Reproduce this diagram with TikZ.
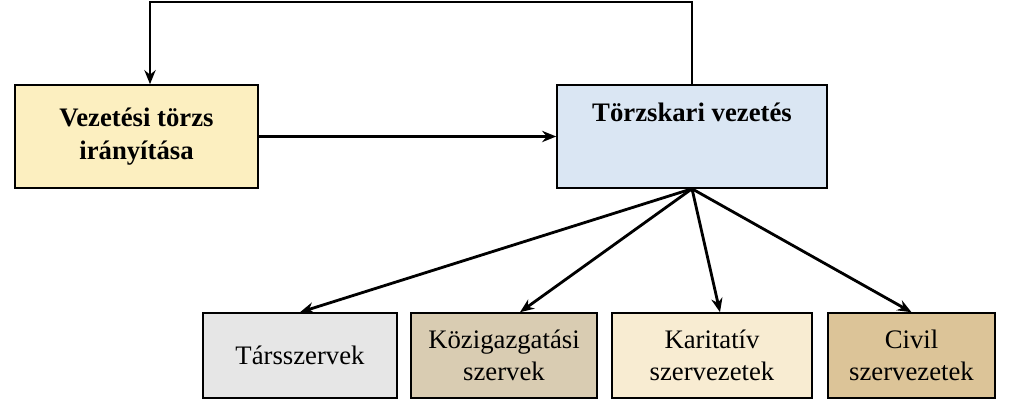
\documentclass[tikz,border=0pt]{standalone}
\usepackage{fontspec}
\setmainfont{Liberation Serif}
\usetikzlibrary{arrows.meta}
\tikzset{>={Stealth[length=10pt,width=8pt]}}
\definecolor{vezyellow}{HTML}{FCEFC0}
\definecolor{torzsblue}{HTML}{DAE6F3}
\definecolor{tarsgray}{HTML}{E6E6E6}
\definecolor{kozigtan}{HTML}{D9CCB2}
\definecolor{karitcream}{HTML}{F8ECD2}
\definecolor{civiltan}{HTML}{DCC498}
\tikzset{
  topbox/.style={draw=black, line width=1.1pt, font=\fontsize{19}{23}\selectfont\bfseries, align=center},
  lowbox/.style={draw=black, line width=1.1pt, font=\fontsize{19}{23}\selectfont, align=center, inner sep=1pt},
  conn/.style={line width=2pt, ->}
}

\begin{document}
\begin{tikzpicture}[x=0.025cm, y=-0.025cm]
        \useasboundingbox (0,0) rectangle (1024,418);
        % upper row
        \node[topbox, fill=vezyellow, minimum width=243*0.025cm, minimum height=103*0.025cm] (vez) at (136.5,136.5) {Vezetési törzs\\irányítása};
        \node[topbox, fill=torzsblue, minimum width=270*0.025cm, minimum height=103*0.025cm, text depth=34pt] (torzs) at (692,136.5) {Törzskari vezetés};
        % lower row
        \node[lowbox, fill=tarsgray, minimum width=194*0.025cm, minimum height=85*0.025cm] (tars) at (300,355.5) {Társszervek};
        \node[lowbox, fill=kozigtan, minimum width=186*0.025cm, minimum height=85*0.025cm] (kozig) at (504,355.5) {Közigazgatási\\szervek};
        \node[lowbox, fill=karitcream, minimum width=200*0.025cm, minimum height=85*0.025cm] (karit) at (712,355.5) {Karitatív\\szervezetek};
        \node[lowbox, fill=civiltan, minimum width=167*0.025cm, minimum height=85*0.025cm] (civil) at (911.5,355.5) {Civil\\szervezetek};
        % connectors
        \coordinate (fork) at (torzs.south);
        \coordinate (loopR) at (692,2);
        \coordinate (loopL) at (150,2);
        \draw[conn] (torzs.north) -- (loopR) -- (loopL) -- (loopL |- vez.north);
        \draw[conn] (vez.east) -- (torzs.west);
        \draw[conn] (fork) -- (tars.north);
        \draw[conn] (fork) -- ([xshift=16*0.025cm]kozig.north);
        \draw[conn] (fork) -- ([xshift=8*0.025cm]karit.north);
        \draw[conn] (fork) -- (civil.north);
\end{tikzpicture}
\end{document}
